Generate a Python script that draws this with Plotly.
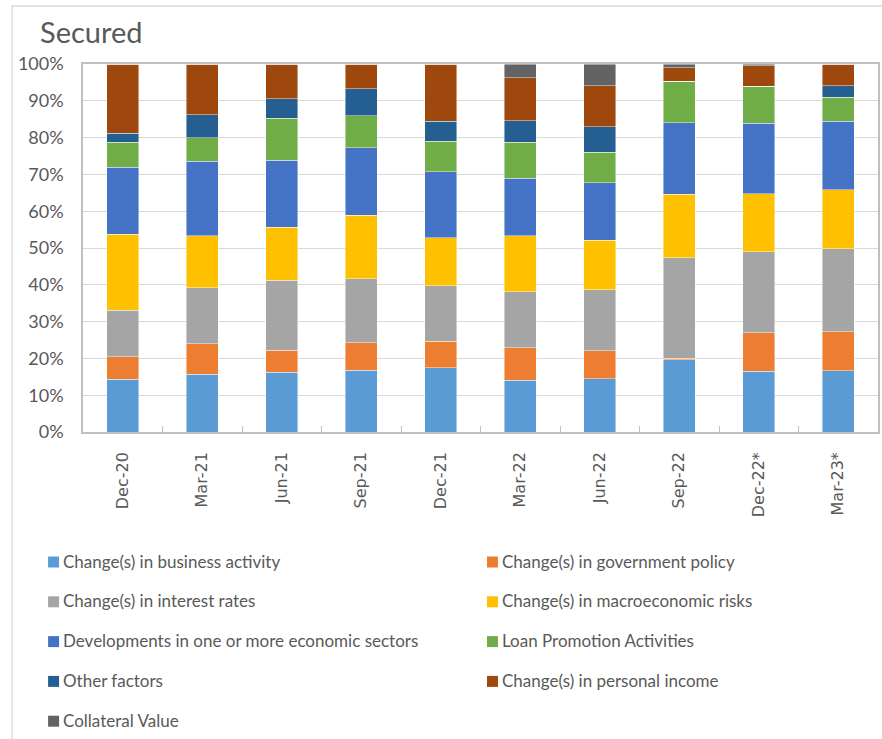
import plotly.graph_objects as go

# Quarters on the horizontal axis
quarters = ["Dec-20", "Mar-21", "Jun-21", "Sep-21", "Dec-21",
            "Mar-22", "Jun-22", "Sep-22", "Dec-22*", "Mar-23*"]

# Share of responses (%) per factor, one value per quarter
business_activity = [14.4, 15.7, 16.2, 16.8, 17.5, 14.0, 14.5, 19.6, 16.5, 16.6]
government_policy = [6.0, 8.3, 6.0, 7.5, 7.1, 8.9, 7.6, 0.5, 10.5, 10.6]
interest_rates = [12.7, 15.2, 19.1, 17.3, 15.2, 15.2, 16.6, 27.2, 22.0, 22.6]
macro_risks = [20.6, 14.1, 14.4, 17.3, 13.0, 15.2, 13.4, 17.3, 15.7, 16.0]
sector_developments = [18.3, 20.3, 18.2, 18.3, 17.9, 15.7, 15.6, 19.5, 19.2, 18.6]
loan_promotion = [6.7, 6.4, 11.4, 8.8, 8.3, 9.7, 8.3, 11.2, 10.0, 6.6]
other_factors = [2.5, 6.2, 5.2, 7.3, 5.5, 5.9, 6.9, 0.0, 0.0, 3.1]
personal_income = [18.8, 13.8, 9.5, 6.7, 15.5, 11.7, 11.2, 3.7, 5.6, 5.9]
collateral_value = [0.0, 0.0, 0.0, 0.0, 0.0, 3.7, 5.9, 1.0, 0.5, 0.0]

series_names = [
    "Change(s) in business activity",
    "Change(s) in government policy",
    "Change(s) in interest rates",
    "Change(s) in macroeconomic risks",
    "Developments in one or more economic sectors",
    "Loan Promotion Activities",
    "Other factors",
    "Change(s) in personal income",
    "Collateral Value",
]
series_values = [business_activity, government_policy, interest_rates, macro_risks,
                 sector_developments, loan_promotion, other_factors,
                 personal_income, collateral_value]
series_colors = ["#5B9BD5", "#ED7D31", "#A5A5A5", "#FFC000", "#4472C4",
                 "#70AD47", "#255E91", "#9E480E", "#636363"]

W, H = 882, 739
L, R, T, B = 83, 880, 64, 432  # plot area in pixels
TEXT = "#595959"


def px_x(px):
    return (px - L) / (R - L)


def px_y(py):
    return (B - py) / (B - T)


fig = go.Figure()
for name, vals, col in zip(series_names, series_values, series_colors):
    fig.add_trace(go.Bar(
        x=quarters, y=vals, name=name,
        marker=dict(color=col, line=dict(color="rgba(255,255,255,0.55)", width=0.8)),
        showlegend=False,
        hovertemplate="%{x}: %{y:.1f}%<extra>" + name + "</extra>",
    ))

shapes = []
annotations = []

# Outer chart frame
shapes.append(dict(type="rect", xref="paper", yref="paper",
                   x0=px_x(12), x1=px_x(900), y0=px_y(760), y1=px_y(6),
                   line=dict(color="#D9D9D9", width=1.3), layer="below"))

# Chart title
annotations.append(dict(text="Secured", xref="paper", yref="paper",
                        x=px_x(38), y=px_y(31), xanchor="left", yanchor="middle",
                        showarrow=False, font=dict(family="Lato", size=29, color=TEXT)))

# Two-column legend beneath the chart
for i, (name, col) in enumerate(zip(series_names, series_colors)):
    row, c = divmod(i, 2)
    sx = 48 + c * 440
    cy = 562 + row * 39.8
    shapes.append(dict(type="rect", xref="paper", yref="paper",
                       x0=px_x(sx), x1=px_x(sx + 11),
                       y0=px_y(cy + 5.5), y1=px_y(cy - 5.5),
                       fillcolor=col, line=dict(width=0)))
    annotations.append(dict(text=name, xref="paper", yref="paper",
                            x=px_x(sx + 13), y=px_y(cy - 1), xanchor="left", yanchor="middle",
                            showarrow=False,
                            font=dict(family="Lato", size=17, color=TEXT)))

fig.update_layout(
    width=W, height=H,
    margin=dict(l=L, r=W - R, t=T, b=H - B, pad=0),
    barmode="stack", bargap=0.6,
    plot_bgcolor="white", paper_bgcolor="white",
    shapes=shapes, annotations=annotations,
    showlegend=False,
)
fig.update_yaxes(
    range=[0, 100], dtick=10, ticksuffix="%",
    showgrid=True, gridcolor="#D9D9D9", gridwidth=1.4,
    showline=True, mirror=True, linecolor="#BFBFBF", linewidth=1.5,
    ticks="", ticklabelstandoff=14,
    tickfont=dict(family="Lato", size=18, color=TEXT),
    zeroline=False,
)
fig.update_xaxes(
    type="category", tickangle=-90,
    showline=True, mirror=True, linecolor="#BFBFBF", linewidth=1.5,
    ticks="inside", tickson="boundaries", ticklen=6, tickcolor="#BFBFBF", tickwidth=1.3,
    ticklabelstandoff=12,
    tickfont=dict(family="DejaVu Sans", size=16, color=TEXT),
    showgrid=False,
)

fig.write_html("out.html")
